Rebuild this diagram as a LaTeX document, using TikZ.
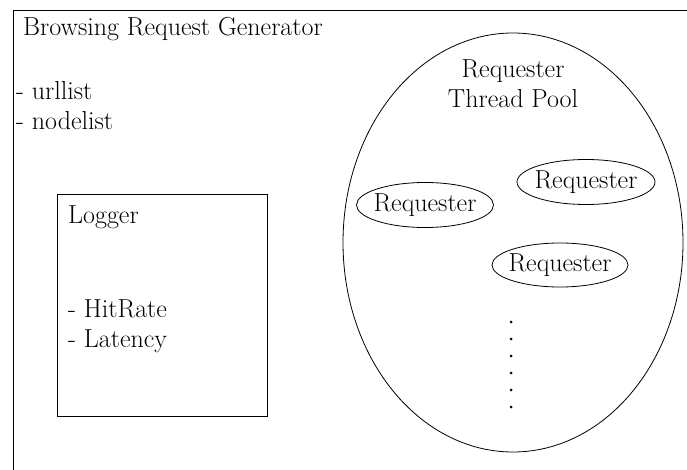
\documentclass[tikz,border=0pt]{standalone}
\usetikzlibrary{shapes.geometric}
\begin{document}
\begin{tikzpicture}[x=1pt,y=-1pt,
  every node/.style={font=\fontsize{26}{30}\selectfont},
  lbl/.style={anchor=base west, inner sep=0pt},
  clbl/.style={anchor=base, inner sep=0pt},
  box/.style={draw, line width=0.9pt, rectangle, inner sep=0pt},
  oval/.style={draw, line width=0.8pt, ellipse, inner sep=0pt},
  dotmark/.style={circle, fill=black, inner sep=0pt, minimum size=3pt}]
\useasboundingbox (0,0) rectangle (687,470);
% outer frame (open at right and bottom)
\coordinate (fbl) at (13,470);
\coordinate (ftl) at (13,10);
\coordinate (ftr) at (687,10);
\draw[line width=0.9pt] (fbl) -- (ftl) -- (ftr);
\node[lbl] (title) at (23,36) {Browsing Request Generator};
\node[lbl] (url) at (16,100) {- urllist};
\node[lbl] (nodes) at (16,130) {- nodelist};
% logger
\node[box, minimum width=210pt, minimum height=222pt] (logger) at (162,305) {};
\node[lbl] (logt) at (68,223) {Logger};
\node[lbl] (hit) at (68,317) {- HitRate};
\node[lbl] (lat) at (68,347) {- Latency};
% thread pool
\node[oval, minimum width=340pt, minimum height=419pt] (pool) at (513,242.5) {};
\node[clbl] (poolt1) at (513,78) {Requester};
\node[clbl] (poolt2) at (513,108) {Thread Pool};
\node[oval, minimum width=137pt, minimum height=45pt] (r1) at (425,205) {\makebox[0pt]{Requester}};
\node[oval, minimum width=138pt, minimum height=45pt] (r2) at (586,182) {\makebox[0pt]{Requester}};
\node[oval, minimum width=136pt, minimum height=44pt] (r3) at (560,265) {\makebox[0pt]{Requester}};
\foreach \k in {0,...,5} {
  \node[dotmark] (d\k) at (511,322+17*\k) {};
}
\end{tikzpicture}
\end{document}
